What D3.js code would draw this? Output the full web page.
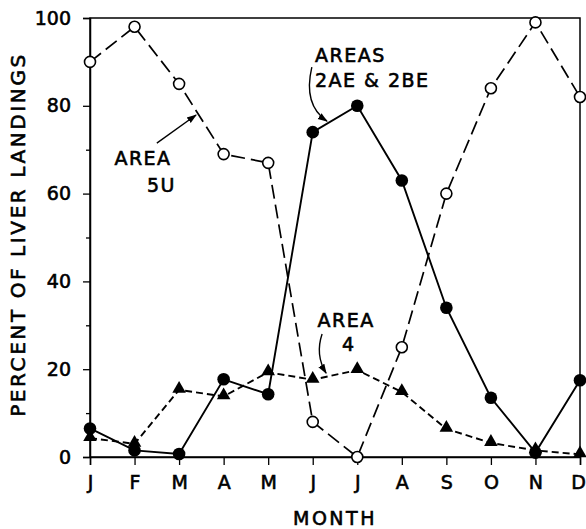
<!DOCTYPE html>
<html>
<head>
<meta charset="utf-8">
<script src="https://cdn.jsdelivr.net/npm/d3@7"></script>
<style>
  body { margin: 0; background: #fff; }
  svg text { font-family: "DejaVu Sans", sans-serif; fill: #000; stroke: #000; stroke-width: 0.6px; }
</style>
</head>
<body>
<div id="chart"></div>
<script>
// data
var months = ["J", "F", "M", "A", "M", "J", "J", "A", "S", "O", "N", "D"];
var area5U = [90, 98, 85, 69, 67, 8, 0, 25, 60, 84, 99, 82];
var area2AE = [6.5, 1.5, 0.7, 17.7, 14.3, 74, 80, 63, 34, 13.5, 1, 17.5];
var area4 = [4.3, 3, 15.3, 13.8, 19.3, 17.6, 19.8, 14.8, 6.4, 3.2, 1.5, 0.6];

var svgWidth = 586, svgHeight = 529;
var margin = { top: 18, right: 6, bottom: 72, left: 90 };
var width = svgWidth - margin.left - margin.right;
var height = svgHeight - margin.top - margin.bottom;

var svg = d3.select("#chart").append("svg")
    .attr("width", svgWidth)
    .attr("height", svgHeight);

var g = svg.append("g")
    .attr("transform", "translate(" + margin.left + "," + margin.top + ")");

var x = d3.scaleLinear().domain([0, 11]).range([0, width]);
var y = d3.scaleLinear().domain([0, 100]).range([height, 0]);

// frame
g.append("rect")
    .attr("x", 0).attr("y", 0)
    .attr("width", width).attr("height", height)
    .attr("fill", "none")
    .attr("stroke", "#000")
    .attr("stroke-width", 1.5);

// y axis: ticks every 10, labels every 20
var yAxis = d3.axisLeft(y)
    .tickValues(d3.range(0, 101, 10))
    .tickSize(7)
    .tickFormat(function(d) { return d % 20 === 0 ? d : ""; });
var yAxisGroup = g.append("g").call(yAxis);
yAxisGroup.select(".domain").attr("stroke-width", 1.5);
yAxisGroup.selectAll(".tick line").attr("stroke-width", 1.3)
    .attr("x2", function(d) { return d % 20 === 0 ? -7 : -4; });
yAxisGroup.selectAll(".tick text")
    .attr("font-size", "19px")
    .attr("x", -19)
    .style("font-family", "DejaVu Sans, sans-serif");

// x axis
var xAxis = d3.axisBottom(x)
    .tickValues(d3.range(12))
    .tickSize(8)
    .tickFormat(function(d) { return months[d]; });
var xAxisGroup = g.append("g")
    .attr("transform", "translate(0," + height + ")")
    .call(xAxis);
xAxisGroup.select(".domain").attr("stroke-width", 1.5);
xAxisGroup.selectAll(".tick line").attr("stroke-width", 1.3);
xAxisGroup.selectAll(".tick text")
    .attr("font-size", "19px")
    .attr("y", 19)
    .attr("dx", function(d) { return d === 11 ? -2 : 0; })
    .style("font-family", "DejaVu Sans, sans-serif");

// axis titles
g.append("text")
    .attr("x", width / 2)
    .attr("y", height + 68)
    .attr("text-anchor", "middle")
    .attr("font-size", "19px")
    .attr("letter-spacing", "2.5px")
    .text("MONTH");

g.append("text")
    .attr("transform", "translate(" + (-72) + "," + (height / 2 - 3) + ") rotate(-90)")
    .attr("text-anchor", "middle")
    .attr("dominant-baseline", "central")
    .attr("font-size", "20px")
    .attr("letter-spacing", "2.6px")
    .text("PERCENT OF LIVER LANDINGS");

// lines
var line = d3.line()
    .x(function(d, i) { return x(i); })
    .y(function(d) { return y(d); });

g.append("path").datum(area5U)
    .attr("d", line)
    .attr("fill", "none").attr("stroke", "#000")
    .attr("stroke-width", 1.7)
    .attr("stroke-dasharray", "14,6");

g.append("path").datum(area4)
    .attr("d", line)
    .attr("fill", "none").attr("stroke", "#000")
    .attr("stroke-width", 1.9)
    .attr("stroke-dasharray", "7,4");

g.append("path").datum(area2AE)
    .attr("d", line)
    .attr("fill", "none").attr("stroke", "#000")
    .attr("stroke-width", 1.9);

// markers
g.selectAll(".tri").data(area4).enter().append("path")
    .attr("class", "tri")
    .attr("d", d3.symbol().type(d3.symbolTriangle).size(80))
    .attr("transform", function(d, i) { return "translate(" + x(i) + "," + (y(d) - 1) + ")"; })
    .attr("fill", "#000");

g.selectAll(".dot").data(area2AE).enter().append("circle")
    .attr("class", "dot")
    .attr("cx", function(d, i) { return x(i); })
    .attr("cy", function(d) { return y(d); })
    .attr("r", 6.3)
    .attr("fill", "#000");

g.selectAll(".ring").data(area5U).enter().append("circle")
    .attr("class", "ring")
    .attr("cx", function(d, i) { return x(i); })
    .attr("cy", function(d) { return y(d); })
    .attr("r", 5.5)
    .attr("fill", "#fff")
    .attr("stroke", "#000")
    .attr("stroke-width", 1.6);

// annotations (positions in data units)
svg.append("defs").append("marker")
    .attr("id", "arrow")
    .attr("viewBox", "0 0 10 10")
    .attr("refX", 9).attr("refY", 5)
    .attr("markerWidth", 10).attr("markerHeight", 10)
    .attr("markerUnits", "userSpaceOnUse")
    .attr("orient", "auto")
    .append("path")
    .attr("d", "M0,1.5 L10,5 L0,8.5 Z")
    .attr("fill", "#000");

function label(txt, xi, yv, anchor) {
    g.append("text")
        .attr("x", x(xi)).attr("y", y(yv))
        .attr("text-anchor", anchor)
        .attr("dominant-baseline", "central")
        .attr("font-size", "19px")
        .attr("letter-spacing", "1.5px")
        .text(txt);
}

label("AREA", 1.19, 68.1, "middle");
label("5U", 1.93, 62, "end");
label("AREAS", 5.05, 91.6, "start");
label("2AE & 2BE", 5.05, 85.9, "start");
label("AREA", 5.75, 31.2, "middle");
label("4", 5.81, 25.7, "middle");

var arrows = [
    [[1.5, 71.5], [1.94, 74.7], [2.38, 77.9]],
    [[4.98, 88.8], [4.78, 80.2], [5.32, 76.5]],
    [[5.21, 28], [5.05, 23.2], [5.3, 19.1]]
];
arrows.forEach(function(a) {
    g.append("path")
        .attr("d", "M" + x(a[0][0]) + "," + y(a[0][1]) +
            " Q" + x(a[1][0]) + "," + y(a[1][1]) +
            " " + x(a[2][0]) + "," + y(a[2][1]))
        .attr("fill", "none")
        .attr("stroke", "#000")
        .attr("stroke-width", 1.4)
        .attr("marker-end", "url(#arrow)");
});
</script>
</body>
</html>
